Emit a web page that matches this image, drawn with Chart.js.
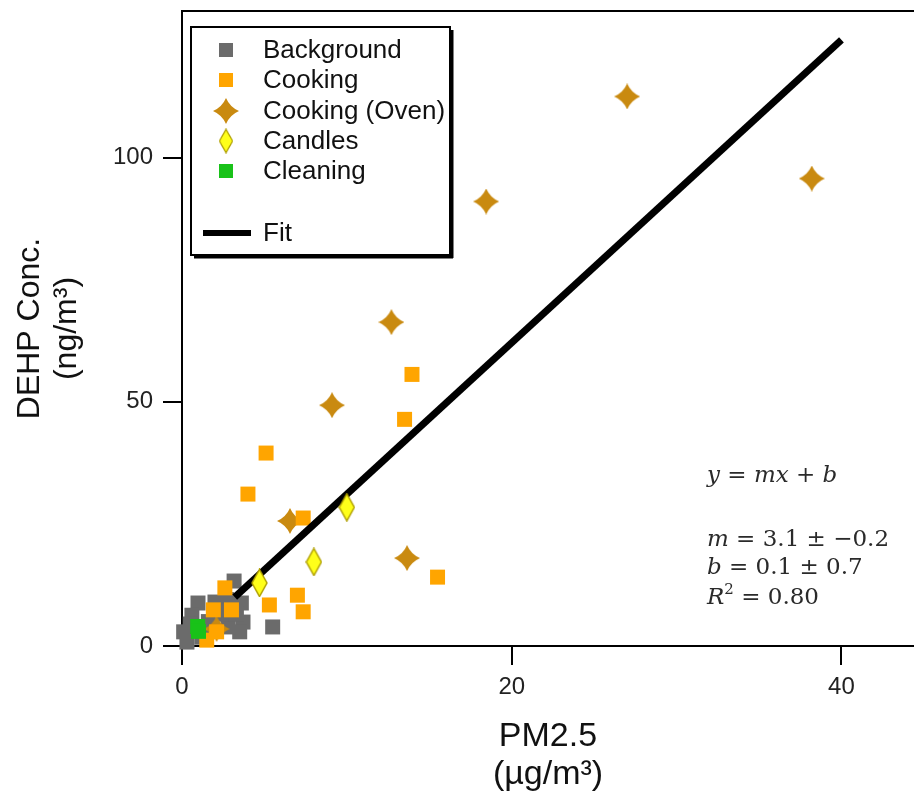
<!DOCTYPE html>
<html>
<head>
<meta charset="utf-8">
<script src="https://cdn.jsdelivr.net/npm/chart.js@4"></script>
<style>
  html, body { margin: 0; padding: 0; background: #fff; }
  #wrap { position: relative; width: 914px; height: 796px; }
</style>
</head>
<body>
<div id="wrap"><canvas id="c"></canvas></div>
<script>
// DEHP vs PM2.5 scatter with fit line

// values (x = PM2.5 ug/m3, y = DEHP ng/m3)
const bgX = [3.16, 0.97, 0.6, 3.6, 3.7, 3.5, 0.1, 0.3, 2.8, 2.0, 1.2, 5.5, 0.5, 2.5, 1.6, 3.3, 2.7];
const bgY = [13.3, 8.8, 6.3, 8.8, 4.9, 2.9, 2.9, 0.8, 3.9, 9.0, 1.8, 3.9, 4.5, 6.5, 5.0, 6.5, 9.5];

const cookX = [13.95, 13.5, 5.1, 4.0, 7.35, 15.5, 7.0, 7.35, 5.3, 2.6, 1.9, 3.0, 2.1, 1.5];
const cookY = [55.6, 46.4, 39.5, 31.1, 26.2, 14.1, 10.4, 7.0, 8.4, 11.9, 7.4, 7.4, 2.9, 1.2];

const ovenX = [27.0, 38.2, 18.45, 12.7, 9.1, 6.55, 13.65, 2.1];
const ovenY = [112.5, 95.7, 91.0, 66.3, 49.3, 25.6, 18.0, 3.5];

const candleX = [10.0, 8.0, 4.7];
const candleY = [28.4, 17.2, 12.9];

const cleanX = [0.95, 1.0];
const cleanY = [4.0, 3.0];

const fitX = [3.2, 40];
const fitY = [10.0, 124.1];

const xTickValues = [0, 20, 40];
const yTickValues = [0, 50, 100];

const eqLines = [
  [['y', 1], [' = ', 0], ['mx', 1], [' + ', 0], ['b', 1]],
  [['m', 1], [' = 3.1 \u00b1 \u22120.2', 0]],
  [['b', 1], [' = 0.1 \u00b1 0.7', 0]],
  [['R', 1], ['2', 2], [' = 0.80', 0]],
];

const pts = (xs, ys) => xs.map((x, i) => ({ x, y: ys[i] }));

function makeStar(size, color) {
  const cv = document.createElement('canvas');
  cv.width = size; cv.height = size;
  const g = cv.getContext('2d');
  const c = size / 2, k = size * 0.15;
  g.fillStyle = color;
  g.beginPath();
  g.moveTo(c, 0);
  g.quadraticCurveTo(c + k, c - k, size, c);
  g.quadraticCurveTo(c + k, c + k, c, size);
  g.quadraticCurveTo(c - k, c + k, 0, c);
  g.quadraticCurveTo(c - k, c - k, c, 0);
  g.fill();
  return cv;
}

function makeDiamond(w, h, fill, line) {
  const cv = document.createElement('canvas');
  cv.width = w; cv.height = h;
  const g = cv.getContext('2d');
  g.fillStyle = fill;
  g.strokeStyle = line;
  g.lineWidth = 1.5;
  g.beginPath();
  g.moveTo(w / 2, 1);
  g.lineTo(w - 1, h / 2);
  g.lineTo(w / 2, h - 1);
  g.lineTo(1, h / 2);
  g.closePath();
  g.fill();
  g.stroke();
  return cv;
}

const starImg = makeStar(26, '#c98a10');
const diamondImg = makeDiamond(17, 29, '#ffff1a', '#b0a000');

// legend + frame + equation drawn on top
const extras = {
  id: 'extras',
  afterDraw(chart) {
    const ctx = chart.ctx;
    const a = chart.chartArea;
    ctx.save();

    // top frame line
    ctx.strokeStyle = '#000';
    ctx.lineWidth = 2;
    ctx.beginPath();
    ctx.moveTo(a.left - 1, a.top);
    ctx.lineTo(chart.width, a.top);
    ctx.stroke();

    // legend box
    const bx = 191, by = 27, bw = 259, bh = 228;
    ctx.fillStyle = '#fff';
    ctx.fillRect(bx, by, bw, bh);
    ctx.strokeRect(bx, by, bw, bh);
    ctx.fillStyle = '#000';
    ctx.fillRect(bx + bw + 1, by + 3, 2.5, bh);
    ctx.fillRect(bx + 3, by + bh + 1, bw, 2.5);

    const rows = [50, 80, 111, 141, 171];
    const mx = 226;
    ctx.textBaseline = 'middle';
    chart.data.datasets.forEach((ds) => {
      const y = ds.legendRow === 'fit' ? 233 : rows[ds.legendRow];
      if (ds.legendRow === 'fit') {
        ctx.fillStyle = '#000';
        ctx.fillRect(203, y - 3, 48, 6);
      } else if (ds.pointStyle === 'rect') {
        ctx.fillStyle = ds.backgroundColor;
        ctx.fillRect(mx - 7, y - 7, 14, 14);
      } else {
        const img = ds.pointStyle;
        const s = img === diamondImg ? 0.87 : 1;
        ctx.drawImage(img, mx - img.width * s / 2, y - img.height * s / 2, img.width * s, img.height * s);
      }
      ctx.fillStyle = '#111';
      ctx.font = '26px "Liberation Sans", Arial, sans-serif';
      ctx.fillText(ds.label, 263, y + 1);
    });

    // fit equation
    const lineY = [476, 540, 568, 598];
    eqLines.forEach((segs, li) => {
      let x = 707;
      segs.forEach(([t, kind]) => {
        let y = lineY[li];
        if (kind === 2) {
          ctx.font = '15px "DejaVu Serif", serif';
          y -= 8;
        } else if (kind === 1) {
          ctx.font = 'italic 23px "DejaVu Serif", serif';
        } else {
          ctx.font = '23px "DejaVu Serif", serif';
        }
        ctx.fillStyle = '#2a2a2a';
        ctx.fillText(t, x, y);
        x += ctx.measureText(t).width;
      });
    });

    ctx.restore();
  },
};

const tickFont = { family: '"Liberation Sans", Arial, sans-serif', size: 24 };
const xTitleFont = { family: '"Liberation Sans", Arial, sans-serif', size: 34, lineHeight: 1.1 };
const yTitleFont = { family: '"Liberation Sans", Arial, sans-serif', size: 32, lineHeight: 1.15 };

function noPad(s) {
  s.paddingTop = 0;
  s.paddingBottom = 0;
  s.paddingLeft = 0;
  s.paddingRight = 0;
}

new Chart(document.getElementById('c'), {
  type: 'scatter',
  data: {
    datasets: [
      {
        label: 'Background', legendRow: 0, order: 6,
        data: pts(bgX, bgY),
        pointStyle: 'rect', pointRadius: 10.6, pointHoverRadius: 10.6,
        backgroundColor: '#6b6b6b', borderWidth: 0, clip: false,
      },
      {
        label: 'Cooking', legendRow: 1, order: 4,
        data: pts(cookX, cookY),
        pointStyle: 'rect', pointRadius: 10.6, pointHoverRadius: 10.6,
        backgroundColor: '#ffa500', borderWidth: 0, clip: false,
      },
      {
        label: 'Cooking (Oven)', legendRow: 2, order: 5,
        data: pts(ovenX, ovenY),
        pointStyle: starImg, pointRadius: 13,
        backgroundColor: '#c98a10', borderWidth: 0, clip: false,
      },
      {
        label: 'Candles', legendRow: 3, order: 2,
        data: pts(candleX, candleY),
        pointStyle: diamondImg, pointRadius: 14,
        backgroundColor: '#ffff1a', borderWidth: 0, clip: false,
      },
      {
        label: 'Cleaning', legendRow: 4, order: 1,
        data: pts(cleanX, cleanY),
        pointStyle: 'rect', pointRadius: 10.6, pointHoverRadius: 10.6,
        backgroundColor: '#19c219', borderWidth: 0, clip: false,
      },
      {
        label: 'Fit', legendRow: 'fit', order: 3,
        data: pts(fitX, fitY),
        showLine: true, borderColor: '#000', borderWidth: 7,
        pointRadius: 0, pointHoverRadius: 0,
      },
    ],
  },
  options: {
    responsive: true,
    maintainAspectRatio: false,
    animation: false,
    layout: { autoPadding: false, padding: { top: 11, right: 0, bottom: 0, left: 0 } },
    plugins: {
      legend: { display: false },
      tooltip: { enabled: false },
    },
    scales: {
      x: {
        type: 'linear',
        min: 0, max: 44.4,
        afterFit(s) { s.height = 150; noPad(s); },
        afterBuildTicks(s) { s.ticks = xTickValues.map(v => ({ value: v })); },
        border: { color: '#000', width: 2 },
        grid: { drawOnChartArea: false, drawTicks: true, tickLength: 19, color: '#000', lineWidth: 2 },
        ticks: { font: tickFont, color: '#222', padding: 8, maxRotation: 0 },
        title: {
          display: true, text: ['PM2.5', '(\u00b5g/m\u00b3)'],
          font: xTitleFont, color: '#111', padding: { top: 0, bottom: 3 },
        },
      },
      y: {
        type: 'linear',
        min: 0, max: 130,
        afterFit(s) { s.width = 182; noPad(s); },
        afterBuildTicks(s) { s.ticks = yTickValues.map(v => ({ value: v })); },
        border: { color: '#000', width: 2 },
        grid: { drawOnChartArea: false, drawTicks: true, tickLength: 19, color: '#000', lineWidth: 2 },
        ticks: { font: tickFont, color: '#222', padding: 10 },
        title: {
          display: true, text: ['DEHP Conc.', '(ng/m\u00b3)'],
          font: yTitleFont, color: '#111', padding: { top: 12, bottom: 0 },
        },
      },
    },
  },
  plugins: [extras],
});
</script>
</body>
</html>
